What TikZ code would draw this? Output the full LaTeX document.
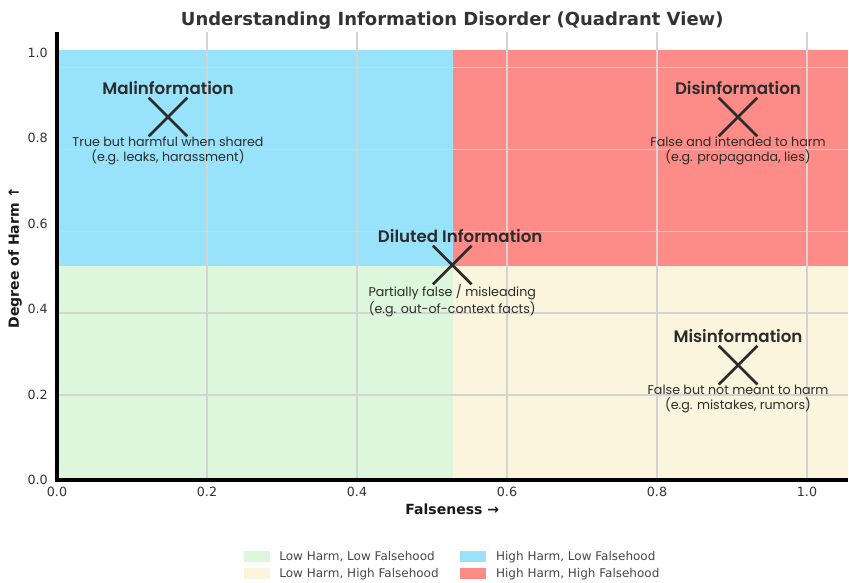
\documentclass[tikz,border=0pt]{standalone}
\usepackage{fontspec}
\setmainfont{DejaVu Sans}
\newfontfamily\notefont[BoldFont={Poppins SemiBold}]{Poppins}
\usetikzlibrary{positioning, shapes.misc}

\definecolor{lowlow}{HTML}{DCF7DC}
\definecolor{lowhigh}{HTML}{FAF5DC}
\definecolor{highlow}{HTML}{99E2FB}
\definecolor{highhigh}{HTML}{FD8B87}
\definecolor{gridgray}{HTML}{D4D4D4}
\definecolor{ink}{HTML}{2B2B2B}

\begin{document}
\begin{tikzpicture}[
        x=562.5pt, y=320.25pt,
        gridline/.style={gridgray, line width=0.8pt},
        spine/.style={black, line width=3.2pt},
        ticklabel/.style={font=\fontsize{9.5}{11}\selectfont, text=black!80, inner sep=0pt},
        axislabel/.style={font=\fontsize{10.5}{12}\selectfont\bfseries, text=black!90},
        xmark/.style={cross out, draw=ink, line width=2pt, minimum size=27pt, inner sep=0pt},
        headline/.style={font=\notefont\fontsize{12.5}{14}\selectfont\bfseries, text=ink, inner sep=0pt},
        blurb/.style={font=\notefont\fontsize{9.5}{11.25}\selectfont, text=ink, align=center, inner sep=0pt},
        swatch/.style={minimum width=19.5pt, minimum height=8.25pt, inner sep=0pt},
        legendtext/.style={font=\fontsize{9}{10}\selectfont, text=black!72, inner sep=0pt},
        node distance=2pt,
        ]

    \useasboundingbox (-0.076,-0.2412) rectangle (1.056,1.1241);

    % Quadrants
    \fill[lowlow]   (0,0)     rectangle (0.528,0.501);
    \fill[lowhigh]  (0.528,0) rectangle (1.055,0.501);
    \fill[highlow]  (0,0.501) rectangle (0.528,1.007);
    \fill[highhigh] (0.528,0.501) rectangle (1.055,1.007);

    % Grid
    \foreach \gx in {0.2,0.4,0.6,0.8,1.0}
        \draw[gridline] (\gx,0) -- (\gx,1.049);
    \foreach \gy in {0.199,0.391,0.583,0.775,0.967}
        \draw[gridline] (0,\gy) -- (1.055,\gy);

    % Axes
    \draw[spine] (0,1.049) -- (0,0) -- (1.055,0);
    \foreach \v in {0.0,0.2,0.4,0.6,0.8,1.0} {
        \node[ticklabel, anchor=east] (ytick\v) at (-0.012,\v) {\v};
        \node[ticklabel, anchor=north] (xtick\v) at (\v,-0.016) {\v};
    }
    \node[axislabel] (xlabel) at (0.527,-0.068) {Falseness →};
    \node[axislabel, rotate=90] (ylabel) at (-0.056,0.521) {Degree of Harm ↑};

    % Title
    \node[font=\fontsize{13.5}{15}\selectfont\bfseries, text=black!80] (title) at (0.527,1.077)
        {Understanding Information Disorder (Quadrant View)};

    % Points
    \node[xmark] (mal) at (0.148,0.850) {};
    \node[xmark] (dis) at (0.908,0.850) {};
    \node[xmark] (dil) at (0.527,0.5035) {};
    \node[xmark] (mis) at (0.908,0.269) {};

    \node[headline, above=of mal] (malname) {Malinformation};
    \node[blurb, below=0pt of mal] (maltext) {True but harmful when shared\\(e.g. leaks, harassment)};
    \node[headline, above=of dis] (disname) {Disinformation};
    \node[blurb, below=0pt of dis] (distext) {False and intended to harm\\(e.g. propaganda, lies)};
    \node[headline, above=of dil, xshift=6pt] (dilname) {Diluted Information};
    \node[blurb, below=0pt of dil] (diltext) {Partially false / misleading\\(e.g. out-of-context facts)};
    \node[headline, above=of mis] (misname) {Misinformation};
    \node[blurb, below=0pt of mis] (mistext) {False but not meant to harm\\(e.g. mistakes, rumors)};

    % Legend
    \node[swatch, fill=lowlow]   (sw1) at (0.266,-0.180) {};
    \node[swatch, fill=lowhigh]  (sw2) at (0.266,-0.220) {};
    \node[swatch, fill=highlow]  (sw3) at (0.555,-0.180) {};
    \node[swatch, fill=highhigh] (sw4) at (0.555,-0.220) {};
    \node[legendtext, right=7pt of sw1] (lg1) {Low Harm, Low Falsehood};
    \node[legendtext, right=7pt of sw2] (lg2) {Low Harm, High Falsehood};
    \node[legendtext, right=7pt of sw3] (lg3) {High Harm, Low Falsehood};
    \node[legendtext, right=7pt of sw4] (lg4) {High Harm, High Falsehood};

\end{tikzpicture}
\end{document}
